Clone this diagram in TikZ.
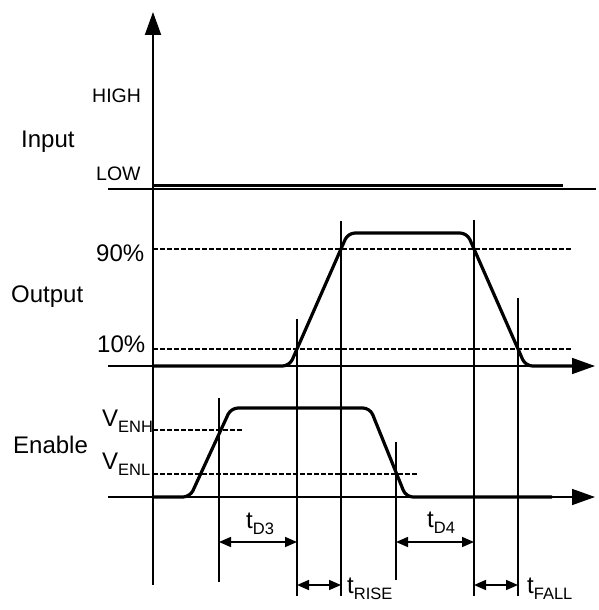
\documentclass[tikz,border=0pt]{standalone}
\usepackage{fontspec}
\setmainfont{Liberation Sans}
\usetikzlibrary{arrows.meta}
\newcommand\mysub[2]{{\fontsize{24}{26}\selectfont #1}\raisebox{-6.5pt}{\fontsize{16.5}{18}\selectfont #2}}
\begin{document}
\begin{tikzpicture}[x=1pt,y=-1pt,
  axis/.style={line width=2pt},
  baseln/.style={line width=1.6pt},
  wave/.style={line width=3.2pt, rounded corners=7pt, line join=round},
  vline/.style={line width=1.2pt},
  refln/.style={line width=1.2pt, dash pattern=on 4.5pt off 2.5pt},
  big/.style={font=\fontsize{24}{26}\selectfont, inner sep=0pt},
  small/.style={font=\fontsize{19.5}{21}\selectfont, inner sep=0pt},
  dim/.style={line width=1.6pt, {Triangle[length=12pt,width=10pt]}-{Triangle[length=12pt,width=10pt]}},
  bigtip/.style={-{Triangle[length=23pt,width=16pt]}},
]
\useasboundingbox (0,0) rectangle (598,610);

% main axis
\coordinate (axb) at (153,585);
\coordinate (axt) at (153,12);
\draw[axis, bigtip] (axb) -- (axt);

% ---- Input ----
\coordinate (inL) at (108,189);
\coordinate (inR) at (596,189);
\coordinate (inS) at (153,185);
\coordinate (inE) at (563,185);
\draw[baseln] (inL) -- (inR);
\draw[line width=3pt] (inS) -- (inE);

% ---- Output ----
\coordinate (outL) at (108,366);
\coordinate (outR) at (595,366);
\draw[baseln, bigtip] (outL) -- (outR);
\coordinate (o90L) at (153,249);
\coordinate (o90R) at (573,249);
\coordinate (o10L) at (153,349);
\coordinate (o10R) at (573,349);
\draw[refln] (o90L) -- (o90R);
\draw[refln] (o10L) -- (o10R);
\coordinate (ow0) at (153,366);
\coordinate (ow1) at (289.5,366);
\coordinate (ow2) at (348,233);
\coordinate (ow3) at (467,233);
\coordinate (ow4) at (525.5,366);
\coordinate (ow5) at (572,366);
\draw[wave] (ow0) -- (ow1) -- (ow2) -- (ow3) -- (ow4) -- (ow5);

% ---- Enable ----
\coordinate (enL) at (108,497);
\coordinate (enR) at (595,497);
\draw[baseln, bigtip] (enL) -- (enR);
\coordinate (ehL) at (153,430);
\coordinate (ehR) at (242,430);
\coordinate (elL) at (153,474);
\coordinate (elR) at (419,474);
\draw[refln] (ehL) -- (ehR);
\draw[refln] (elL) -- (elR);
\coordinate (ew0) at (153,497);
\coordinate (ew1) at (190,497);
\coordinate (ew2) at (231,408);
\coordinate (ew3) at (370,408);
\coordinate (ew4) at (406,497);
\coordinate (ew5) at (552,497);
\draw[wave] (ew0) -- (ew1) -- (ew2) -- (ew3) -- (ew4) -- (ew5);

% ---- vertical timing lines ----
\coordinate (v1t) at (219,398); \coordinate (v1b) at (219,582);
\coordinate (v2t) at (297,319); \coordinate (v2b) at (297,596);
\coordinate (v3t) at (341,221); \coordinate (v3b) at (341,596);
\coordinate (v4t) at (396,442); \coordinate (v4b) at (396,580);
\coordinate (v5t) at (474,220); \coordinate (v5b) at (474,596);
\coordinate (v6t) at (518,298); \coordinate (v6b) at (518,596);
\foreach \v in {v1,v2,v3,v4,v5,v6}{\draw[vline] (\v t) -- (\v b);}

% ---- dimension arrows ----
\coordinate (d3a) at (219,542); \coordinate (d3b) at (297,542);
\coordinate (d4a) at (396,542); \coordinate (d4b) at (474,542);
\coordinate (dra) at (297,585); \coordinate (drb) at (341,585);
\coordinate (dfa) at (474,585); \coordinate (dfb) at (518,585);
\draw[dim] (d3a) -- (d3b);
\draw[dim] (d4a) -- (d4b);
\draw[dim] (dra) -- (drb);
\draw[dim] (dfa) -- (dfb);

% ---- labels ----
\node[small, anchor=base west] (high) at (92,102) {HIGH};
\node[small, anchor=base west] (low) at (96,180) {LOW};
\node[big, anchor=base west] (input) at (21,147) {Input};
\node[big, anchor=base west] (p90) at (96,261) {90\%};
\node[big, anchor=base west] (output) at (11,302) {Output};
\node[big, anchor=base west] (p10) at (97,352) {10\%};
\node[big, anchor=base west] (venh) at (102,426) {\mysub{V}{ENH}};
\node[big, anchor=base west] (enable) at (13,453) {Enable};
\node[big, anchor=base west] (venl) at (102,469) {\mysub{V}{ENL}};
\node[big, anchor=base west] (td3) at (246,528) {\mysub{t}{D3}};
\node[big, anchor=base west] (td4) at (427,527) {\mysub{t}{D4}};
\node[big, anchor=base west] (trise) at (347,593) {\mysub{t}{RISE}};
\node[big, anchor=base west] (tfall) at (527,593) {\mysub{t}{FALL}};
\end{tikzpicture}
\end{document}
